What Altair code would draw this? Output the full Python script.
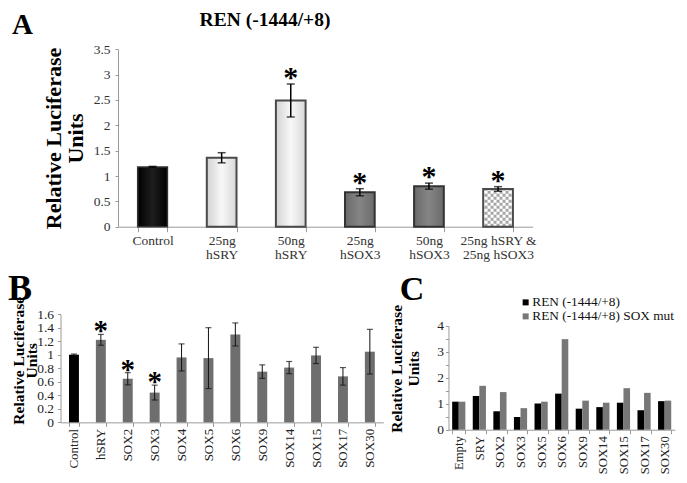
import altair as alt
import pandas as pd

# ---------------- data ----------------
a_cats = ["Control", "25ng\nhSRY", "50ng\nhSRY", "25ng\nhSOX3", "50ng\nhSOX3", "25ng  hSRY &\n25ng  hSOX3"]
a_vals = [1.18, 1.36, 2.49, 0.68, 0.80, 0.745]
a_err = [0.01, 0.10, 0.325, 0.07, 0.06, 0.045]
a_sig = [False, False, True, True, True, True]
a_group = ["control", "sry", "sry", "sox3", "sox3", "combo"]

b_cats = ["Control", "hSRY", "SOX2", "SOX3", "SOX4", "SOX5", "SOX6", "SOX9", "SOX14", "SOX15", "SOX17", "SOX30"]
b_vals = [1.0, 1.22, 0.645, 0.44, 0.96, 0.95, 1.30, 0.75, 0.81, 0.99, 0.68, 1.045]
b_err = [0.01, 0.08, 0.09, 0.11, 0.20, 0.45, 0.17, 0.10, 0.09, 0.12, 0.13, 0.33]
b_sig = [False, True, True, True, False, False, False, False, False, False, False, False]

c_cats = ["Empty", "SRY", "SOX2", "SOX3", "SOX5", "SOX6", "SOX9", "SOX14", "SOX15", "SOX17", "SOX30"]
c_series = ["REN (-1444/+8)", "REN (-1444/+8) SOX mut"]
c_wt = [1.08, 1.30, 0.71, 0.49, 1.01, 1.39, 0.81, 0.87, 1.04, 0.75, 1.10]
c_mut = [1.08, 1.69, 1.45, 0.83, 1.08, 3.49, 1.12, 1.04, 1.60, 1.42, 1.12]

# ---------------- layout helpers ----------------
W, H = 671, 466
SERIF = "Liberation Serif"
KY = 0.955   # slight vertical squeeze of the lower panels so everything fits the page
KX = 0.972   # slight horizontal squeeze of panel C


def cx(X):
    return X - 8


def cy(Y):
    return Y - 8


def ly(Y):
    return 260 + (Y - 260) * KY - 8


def lxc(X):
    return 395 + (X - 395) * KX - 8


# ---------------- panel A ----------------
a_df = pd.DataFrame({"cat": a_cats, "val": a_vals, "err": a_err, "sig": a_sig, "grp": a_group})
a_df["lo"] = a_df["val"] - a_df["err"]
a_df["hi"] = a_df["val"] + a_df["err"]
a_df["zero"] = 0.0

a_xscale = alt.Scale(range=[cx(118), cx(532.6)], paddingInner=0.57, paddingOuter=0.285)
a_xaxis = alt.Axis(orient="bottom", offset=cy(226.7) - H, title=None, labelAngle=0,
                   labelExpr="split(datum.label, '\\n')", labelFont=SERIF, labelFontSize=13.5,
                   labelColor="#333", labelLineHeight=14, labelPadding=2, tickBand="extent",
                   tickSize=5, tickColor="#9a9a9a", domainColor="#9a9a9a")
a_yscale = alt.Scale(domain=[0, 3.5], range=[cy(226.7), cy(49.3)], nice=False)
a_yaxis = alt.Axis(orient="left", offset=-cx(118), values=[0, 0.5, 1, 1.5, 2, 2.5, 3, 3.5], format="~g",
                   grid=False, labelFont=SERIF, labelFontSize=13.5, labelColor="#333", labelPadding=5,
                   tickSize=3, tickColor="#9a9a9a", domainColor="#9a9a9a",
                   title=["Relative Luciferase", "Units"], titleFont=SERIF, titleFontSize=22,
                   titleFontWeight="bold", titleColor="black", titleLineHeight=22, titleAngle=270,
                   titleAlign="center", titleBaseline="middle", titleX=53 - 118, titleY=cy(138))


def ax():
    return alt.X("cat:N", sort=a_cats, scale=a_xscale, axis=a_xaxis)


def ay(f):
    return alt.Y(f, scale=a_yscale, axis=a_yaxis)


baseA = alt.Chart(a_df)


def grad(c0, c1, c2):
    return alt.Gradient(gradient="linear", x1=0, x2=1, y1=0, y2=0,
                        stops=[alt.GradientStop(color=c0, offset=0),
                               alt.GradientStop(color=c1, offset=0.5),
                               alt.GradientStop(color=c2, offset=1)])


a_layers = [
    baseA.transform_filter(alt.datum.grp == "control").mark_bar(
        fill=grad("#000000", "#1e1e1e", "#000000"), stroke="#333", strokeWidth=1.5
    ).encode(x=ax(), y=ay("val:Q")),
    baseA.transform_filter(alt.datum.grp == "sry").mark_bar(
        fill=grad("#d2d2d2", "#f8f8f8", "#d8d8d8"), stroke="#4a4a4a", strokeWidth=2
    ).encode(x=ax(), y=ay("val:Q")),
    baseA.transform_filter(alt.datum.grp == "sox3").mark_bar(
        fill=grad("#6a6a6a", "#858585", "#6a6a6a"), stroke="#333", strokeWidth=2
    ).encode(x=ax(), y=ay("val:Q")),
    baseA.transform_filter(alt.datum.grp == "combo").mark_bar(fill="white").encode(x=ax(), y=ay("val:Q")),
]
for i in range(9):
    a_layers.append(
        baseA.transform_filter(alt.datum.grp == "combo").mark_rule(
            stroke="#a6a6a6", strokeWidth=3, strokeDash=[3, 3], strokeDashOffset=(3 if i % 2 else 0),
            xOffset=-12 + 3 * i
        ).encode(x=ax(), y=ay("zero:Q"), y2="val:Q")
    )
a_layers += [
    baseA.transform_filter(alt.datum.grp == "combo").mark_bar(
        fill="transparent", stroke="#4a4a4a", strokeWidth=2
    ).encode(x=ax(), y=ay("val:Q")),
    baseA.mark_rule(color="black", strokeWidth=1.5).encode(x=ax(), y=ay("lo:Q"), y2="hi:Q"),
    baseA.mark_tick(color="black", size=8, thickness=1.5).encode(x=ax(), y=ay("lo:Q")),
    baseA.mark_tick(color="black", size=8, thickness=1.5).encode(x=ax(), y=ay("hi:Q")),
    baseA.transform_filter(alt.datum.sig).mark_text(
        text="*", font=SERIF, fontSize=30, fontWeight="bold", baseline="alphabetic", dy=3, color="black"
    ).encode(x=ax(), y=ay("hi:Q")),
]
panelA = alt.layer(*a_layers)

# ---------------- panel B ----------------
b_df = pd.DataFrame({"cat": b_cats, "val": b_vals, "err": b_err, "sig": b_sig})
b_df["lo"] = b_df["val"] - b_df["err"]
b_df["hi"] = b_df["val"] + b_df["err"]

b_xscale = alt.Scale(range=[cx(60.5), cx(383.3)], paddingInner=0.63, paddingOuter=0.315)
b_xaxis = alt.Axis(orient="bottom", offset=ly(430) - H, title=None, labelAngle=270, labelFont=SERIF,
                   labelFontSize=13, labelColor="#222", labelPadding=2, tickBand="extent", tickSize=4,
                   tickColor="#9a9a9a", domainColor="#9a9a9a")
b_yscale = alt.Scale(domain=[0, 1.6], range=[ly(430), ly(316.7)], nice=False)
b_yaxis = alt.Axis(orient="left", offset=-cx(60.5), values=[0, 0.2, 0.4, 0.6, 0.8, 1, 1.2, 1.4, 1.6],
                   format="~g", grid=False, labelFont=SERIF, labelFontSize=13.5, labelColor="#222",
                   labelPadding=4, tickSize=3, tickColor="#9a9a9a", domainColor="#9a9a9a",
                   title=["Relative Luciferase", "Units"], titleFont=SERIF, titleFontSize=15.5,
                   titleFontWeight="bold", titleColor="black", titleLineHeight=13, titleAngle=270,
                   titleAlign="center", titleBaseline="middle", titleX=18 - 60.5, titleY=ly(365))


def bx():
    return alt.X("cat:N", sort=b_cats, scale=b_xscale, axis=b_xaxis)


def by(f):
    return alt.Y(f, scale=b_yscale, axis=b_yaxis)


baseB = alt.Chart(b_df)
panelB = alt.layer(
    baseB.mark_bar().encode(
        x=bx(), y=by("val:Q"),
        color=alt.condition(alt.datum.cat == "Control", alt.value("black"), alt.value("#6e6e6e"))
    ),
    baseB.mark_rule(color="#111", strokeWidth=1).encode(x=bx(), y=by("lo:Q"), y2="hi:Q"),
    baseB.mark_tick(color="#111", size=6, thickness=1.2).encode(x=bx(), y=by("lo:Q")),
    baseB.mark_tick(color="#111", size=6, thickness=1.2).encode(x=bx(), y=by("hi:Q")),
    baseB.transform_filter(alt.datum.sig).mark_text(
        text="*", font=SERIF, fontSize=29, fontWeight="bold", baseline="alphabetic", dy=6, color="black"
    ).encode(x=bx(), y=by("hi:Q")),
)

# ---------------- panel C ----------------
c_df = pd.DataFrame({
    "cat": c_cats * 2,
    "series": [c_series[0]] * len(c_cats) + [c_series[1]] * len(c_cats),
    "val": c_wt + c_mut,
})

c_xscale = alt.Scale(range=[lxc(450), lxc(683)], paddingInner=0.36, paddingOuter=0.18)
c_xaxis = alt.Axis(orient="bottom", offset=ly(437.7) - H, title=None, labelAngle=270, labelFont=SERIF,
                   labelFontSize=12.7, labelColor="#222", labelPadding=2, tickBand="extent", tickSize=4,
                   tickColor="#9a9a9a", domainColor="#9a9a9a")
c_yscale = alt.Scale(domain=[0, 4], range=[ly(437.7), ly(329)], nice=False)
c_yaxis = alt.Axis(orient="left", offset=-lxc(450), values=[0, 0.5, 1, 1.5, 2, 2.5, 3, 3.5, 4],
                   format="~g", grid=False, labelFont=SERIF, labelFontSize=13.5, labelColor="#222",
                   labelPadding=2, tickSize=3, tickColor="#9a9a9a", domainColor="#9a9a9a",
                   title=["Relative Luciferase", "Units"], titleFont=SERIF, titleFontSize=15.5,
                   titleFontWeight="bold", titleColor="black", titleLineHeight=17, titleAngle=270,
                   titleAlign="center", titleBaseline="middle", titleX=-52, titleY=ly(373.5))

panelC = alt.Chart(c_df).mark_bar().encode(
    x=alt.X("cat:N", sort=c_cats, scale=c_xscale, axis=c_xaxis),
    xOffset=alt.XOffset("series:N", sort=c_series, scale=alt.Scale(domain=c_series, paddingInner=0)),
    y=alt.Y("val:Q", scale=c_yscale, axis=c_yaxis),
    color=alt.Color("series:N", scale=alt.Scale(domain=c_series, range=["#000000", "#777777"]),
                    legend=alt.Legend(orient="none", legendX=cx(519), legendY=ly(303.7) - 6, title=None,
                                      symbolType="square", symbolSize=36, symbolStrokeWidth=0,
                                      labelFont=SERIF, labelFontSize=13.3, labelColor="#111",
                                      labelOffset=0, rowPadding=0, padding=0, labelLimit=300)),
)

# ---------------- annotations ----------------


def label(txt, x, y, size, align="left"):
    return alt.Chart(pd.DataFrame({"t": [txt]})).mark_text(
        font=SERIF, fontSize=size, fontWeight="bold", align=align, baseline="alphabetic", color="black"
    ).encode(text="t:N", x=alt.value(x), y=alt.value(y))


annots = [
    label("A", cx(12), 26, 29),
    label("REN (-1444/+8)", cx(265), 17.5, 19.5, "center"),
    label("B", cx(8), ly(301.5), 36),
    label("C", lxc(400), ly(302), 34),
]

chart = alt.layer(panelA, panelB, panelC, *annots).resolve_scale(
    x="independent", y="independent", color="independent"
).properties(
    width=W, height=H, padding=0, autosize=alt.AutoSizeParams(type="none")
).configure_view(strokeWidth=0)

chart.save("out.html", embed_options={"renderer": "svg", "actions": False})
